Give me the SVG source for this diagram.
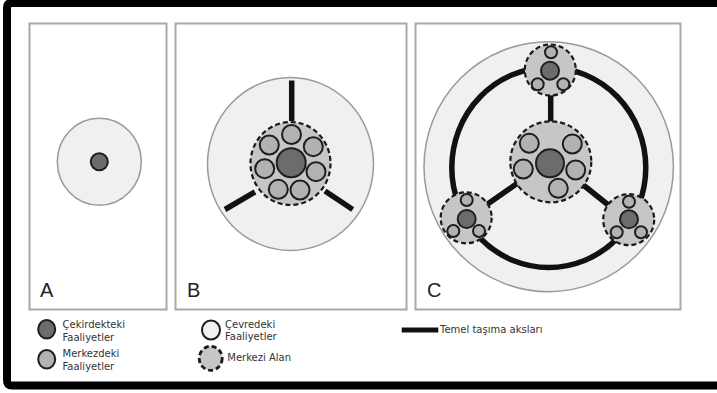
<svg xmlns="http://www.w3.org/2000/svg" width="717" height="393" viewBox="0 0 717 393">
<style>
.panel{fill:#fff;stroke:#a8a8a8;stroke-width:2}
.zone{fill:#f0f0f0;stroke:#9a9a9a;stroke-width:1.5}
.area{fill:#c6c6c6;stroke:#1a1a1a;stroke-width:2.2;stroke-dasharray:5 3}
.core{fill:#6c6c6c;stroke:#1e1e1e;stroke-width:2}
.mid{fill:#b2b2b2;stroke:#1e1e1e;stroke-width:2}
.per{fill:#f2f2f2;stroke:#1e1e1e;stroke-width:2}
.axis{stroke:#111;stroke-width:5.5;fill:none}
.lbl{font-family:"Liberation Sans",Arial,sans-serif;font-size:20px;fill:#222}
.leg{font-family:"DejaVu Sans",Verdana,sans-serif;font-size:10px;fill:#333}
</style>
<rect width="717" height="393" fill="#fff"/>
<path d="M730 3 H12 Q7 3 7 8 V380 Q7 385.5 12 385.5 H730" fill="none" stroke="#000" stroke-width="8"/>

<g id="panelA">
<rect class="panel" x="29.5" y="23.5" width="137" height="286"/>
<ellipse class="zone" cx="99.3" cy="161.7" rx="42" ry="43.5"/>
<circle class="core" cx="99.3" cy="161.7" r="8.5"/>
<text class="lbl" x="40" y="297">A</text>
</g>

<g id="panelB">
<rect class="panel" x="175.5" y="23.5" width="231" height="286"/>
<ellipse class="zone" cx="290.5" cy="164" rx="83" ry="86.5"/>
</g>

<g id="panelC">
<rect class="panel" x="415.5" y="23.5" width="265" height="286"/>
<ellipse class="zone" cx="548.7" cy="166.7" rx="124.7" ry="125"/>
</g>

<g id="connectors">
<line class="axis" x1="291.7" y1="80.5" x2="291.7" y2="121"/>
<line class="axis" x1="225" y1="209.5" x2="255" y2="192"/>
<line class="axis" x1="325" y1="191" x2="352.7" y2="209.5"/>
<ellipse class="axis" cx="548.8" cy="167.5" rx="97" ry="100"/>
<line class="axis" x1="550.7" y1="95" x2="550.7" y2="122"/>
<line class="axis" x1="487.3" y1="204.3" x2="517.3" y2="183.3"/>
<line class="axis" x1="583.3" y1="185" x2="608.3" y2="205"/>
</g>

<g id="nodeB-center">
<ellipse class="area" cx="290.5" cy="163.5" rx="40" ry="41.5"/>
<circle class="core" cx="291.2" cy="162.8" r="14.5"/>
<circle class="mid" cx="291.5" cy="134.5" r="9.5"/>
<circle class="mid" cx="269.3" cy="145" r="9.5"/>
<circle class="mid" cx="313.3" cy="146.7" r="9.5"/>
<circle class="mid" cx="264.7" cy="168.7" r="9.5"/>
<circle class="mid" cx="316" cy="171.7" r="9.5"/>
<circle class="mid" cx="278.3" cy="189.3" r="9.5"/>
<circle class="mid" cx="300" cy="190" r="9.5"/>
</g>
<text class="lbl" x="187" y="297">B</text>

<g id="nodeC-center">
<circle class="area" cx="550.8" cy="161.8" r="40.5"/>
<circle class="core" cx="550" cy="163.3" r="14"/>
<circle class="mid" cx="529.3" cy="143.3" r="9.5"/>
<circle class="mid" cx="572.3" cy="144" r="9.5"/>
<circle class="mid" cx="523.3" cy="169" r="9.5"/>
<circle class="mid" cx="575.7" cy="170" r="9.5"/>
<circle class="mid" cx="558.3" cy="188.3" r="9.5"/>
</g>

<g id="nodeC-top">
<circle class="area" cx="550.3" cy="70" r="25.5"/>
<circle class="core" cx="550" cy="70.7" r="9"/>
<circle class="mid" cx="551" cy="52.3" r="6"/>
<circle class="mid" cx="537.7" cy="84.3" r="6"/>
<circle class="mid" cx="563.3" cy="84.3" r="6"/>
</g>

<g id="nodeC-left">
<circle class="area" cx="466.2" cy="217.8" r="25.5"/>
<circle class="core" cx="466.7" cy="219" r="9"/>
<circle class="mid" cx="466.7" cy="200" r="6"/>
<circle class="mid" cx="453.3" cy="231" r="6"/>
<circle class="mid" cx="479" cy="231" r="6"/>
</g>

<g id="nodeC-right">
<circle class="area" cx="628.7" cy="219.7" r="25.5"/>
<circle class="core" cx="629" cy="219.3" r="9"/>
<circle class="mid" cx="629" cy="201.7" r="6"/>
<circle class="mid" cx="616.7" cy="232.3" r="6"/>
<circle class="mid" cx="641" cy="232.3" r="6"/>
</g>
<text class="lbl" x="427" y="297">C</text>

<g id="legend">
<ellipse class="core" cx="46.7" cy="329.3" rx="8.5" ry="9.2"/>
<text class="leg" x="62.5" y="328">Çekirdekteki</text>
<text class="leg" x="62.5" y="340.5">Faaliyetler</text>
<ellipse class="mid" cx="46.7" cy="359.3" rx="8.5" ry="9.2"/>
<text class="leg" x="62.5" y="357">Merkezdeki</text>
<text class="leg" x="62.5" y="369.5">Faaliyetler</text>
<ellipse class="per" cx="211" cy="330" rx="9" ry="9.5"/>
<text class="leg" x="225" y="327.5">Çevredeki</text>
<text class="leg" x="225" y="339.5">Faaliyetler</text>
<ellipse class="area" cx="210.7" cy="358.3" rx="11.5" ry="12" style="stroke-width:2.8;stroke-dasharray:5 3"/>
<text class="leg" x="227.3" y="360.5">Merkezi Alan</text>
<rect x="401.7" y="327.5" width="36.6" height="5" fill="#111"/>
<text class="leg" x="440" y="332.5">Temel taşıma aksları</text>
</g>
</svg>
